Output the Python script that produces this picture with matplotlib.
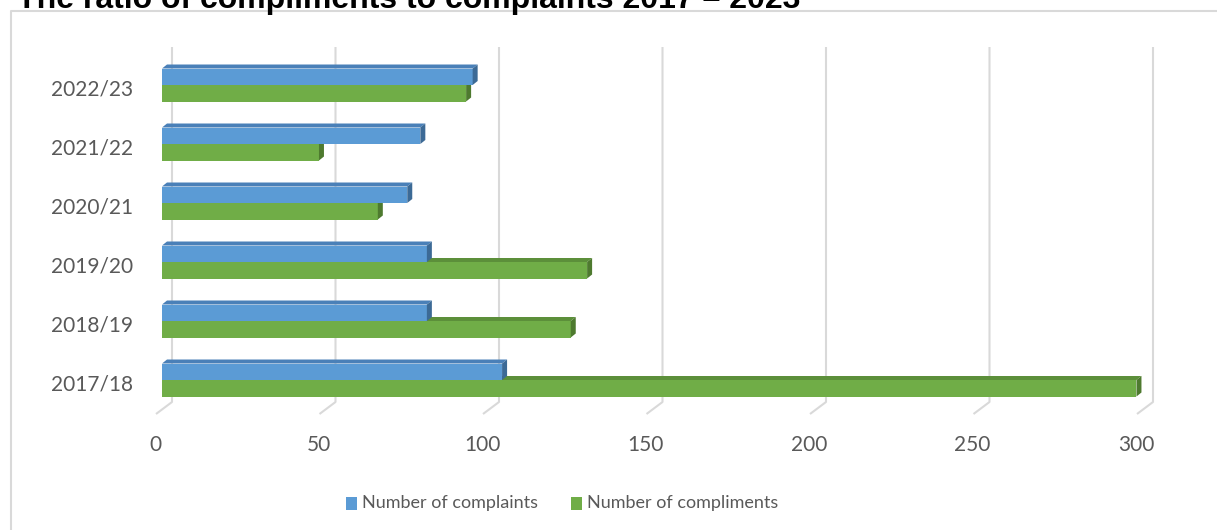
import matplotlib
matplotlib.use("Agg")
import matplotlib.pyplot as plt
from matplotlib.patches import Polygon
from matplotlib.lines import Line2D
import matplotlib.transforms as mtransforms

# ---- data ----
categories = ["2017/18", "2018/19", "2019/20", "2020/21", "2021/22", "2022/23"]
complaints = [104, 81, 81, 75, 79, 95]
compliments = [298, 125, 130, 66, 48, 93]
series_names = ["Number of complaints", "Number of compliments"]
x_ticks = [0, 50, 100, 150, 200, 250, 300]

# ---- styles ----
W, H, DPI = 1217, 530, 100
blue_front, blue_top, blue_side = "#5B9BD5", "#4A80B8", "#3C6A96"
green_front, green_top, green_side = "#70AD47", "#5C8F3A", "#4E7A2F"
grid_col = "#D9D9D9"
text_col = "#595959"
FONT = ["Lato", "DejaVu Sans"]

fig = plt.figure(figsize=(W / DPI, H / DPI), dpi=DPI)
fig.patch.set_facecolor("white")

# axes geometry in pixels
ax_left_px, ax_right_px = 162, 1143
ax_top_px, ax_bot_px = 47, 414
ax = fig.add_axes([ax_left_px / W, 1 - ax_bot_px / H,
                   (ax_right_px - ax_left_px) / W, (ax_bot_px - ax_top_px) / H])
xmin, xmax = 0, 300
ax.set_xlim(xmin, xmax)
pix_per_cat = 59.0
center0_px = 380.0
ymin = -(ax_bot_px - center0_px) / pix_per_cat
ymax = (center0_px - ax_top_px) / pix_per_cat
ax.set_ylim(ymin, ymax)
ax.axis("off")

ux = (xmax - xmin) / (ax_right_px - ax_left_px)  # data units per pixel (x)
uy = 1.0 / pix_per_cat                           # data units per pixel (y)

# back wall gridlines with floor segments
back_dx = 10 * ux
wall_bottom = (center0_px - 402) * uy
wall_top = ymax
floor_y = ymin
for v in x_ticks:
    xb = v + back_dx
    ax.plot([xb, xb, xb - 16 * ux], [wall_top, wall_bottom, floor_y],
            color=grid_col, lw=1.5, solid_capstyle="butt", zorder=1,
            clip_on=False)

# bars
bh = 16.5 * uy
ddx, ddy = 5 * ux, 4 * uy
ypos = list(range(len(categories)))

def draw_bar(y0, val, front, top, side, z):
    ax.barh(y0, val, height=bh, left=0, align="edge", color=front,
            edgecolor="none", zorder=z)
    top_poly = Polygon([(0, y0 + bh), (val, y0 + bh), (val + ddx, y0 + bh + ddy),
                        (ddx, y0 + bh + ddy)], closed=True, facecolor=top,
                       edgecolor="none", zorder=z)
    side_poly = Polygon([(val, y0), (val, y0 + bh), (val + ddx, y0 + bh + ddy),
                         (val + ddx, y0 + ddy)], closed=True, facecolor=side,
                        edgecolor="none", zorder=z)
    ax.add_patch(top_poly)
    ax.add_patch(side_poly)

for i, y in enumerate(ypos):
    draw_bar(y - bh, compliments[i], green_front, green_top, green_side, 2 + i * 2)
    draw_bar(y, complaints[i], blue_front, blue_top, blue_side, 3 + i * 2)

# category labels
lab_trans = ax.transData + mtransforms.ScaledTranslation(0, -4.5 / DPI, fig.dpi_scale_trans)
for y, c in zip(ypos, categories):
    ax.text(-29 * ux, y, c, ha="right", va="center", fontsize=15,
            color=text_col, family=FONT, transform=lab_trans, clip_on=False)

# x tick labels
for v in x_ticks:
    ax.text(v - 7 * ux, (center0_px - 445) * uy, str(v), ha="center", va="center",
            fontsize=15, color=text_col, family=FONT, clip_on=False)

# legend
def fig_px(x, y):
    return x / W, 1 - y / H

leg_items = [(346, blue_front, series_names[0]), (571, green_front, series_names[1])]
for x0, col, name in leg_items:
    fx, fy = fig_px(x0, 510)
    fig.patches.append(plt.Rectangle((fx, fy), 11 / W, 13 / H, transform=fig.transFigure,
                                     facecolor=col, edgecolor="none"))
    tx, ty = fig_px(x0 + 16, 503)
    fig.text(tx, ty, name, ha="left", va="center", fontsize=13, color=text_col,
             family=FONT)

# chart border (left and top visible)
bx, by = fig_px(11, 11)
fig.add_artist(Line2D([bx, bx, 1.01], [-0.01, by, by], transform=fig.transFigure,
                      color=grid_col, lw=1.5))

# title (its top is clipped by the image edge, as in the source)
tx, ty = fig_px(17, 8)
fig.text(tx, ty, "The ratio of compliments to complaints 2017 \u2013 2023",
         ha="left", va="baseline", fontsize=23, fontweight="bold", color="black",
         family=["Liberation Sans", "DejaVu Sans"])

fig.savefig("out.png", dpi=DPI, facecolor="white")
